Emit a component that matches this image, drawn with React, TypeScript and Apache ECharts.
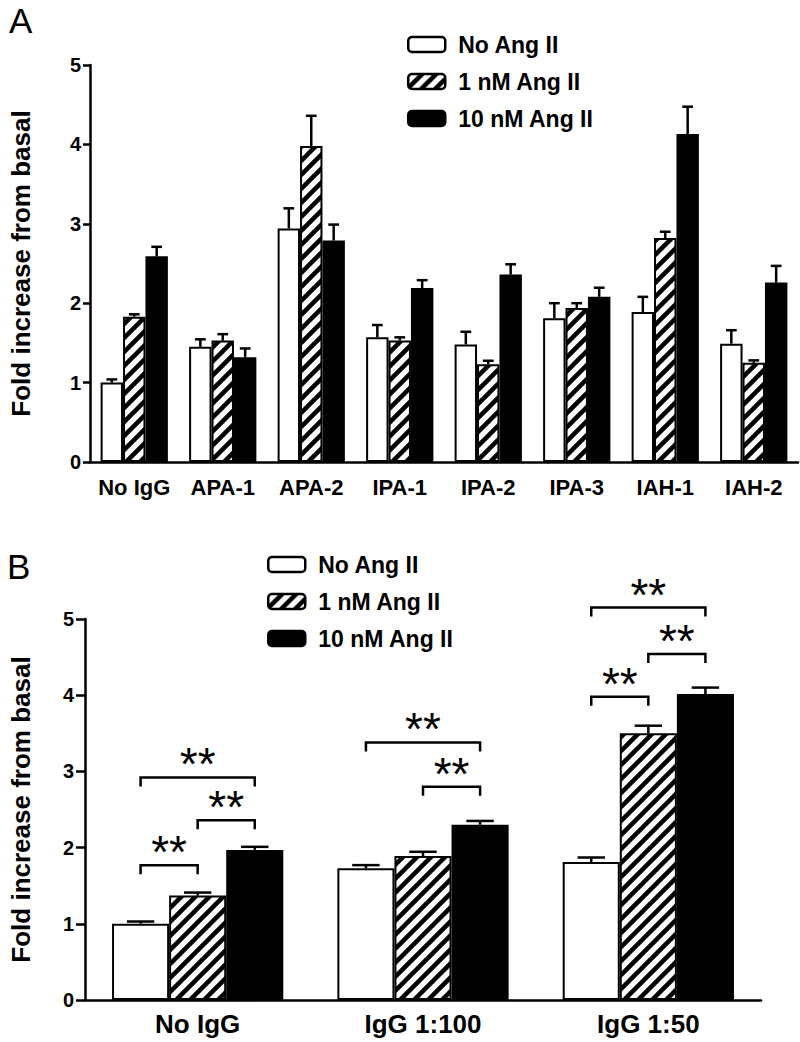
import React, { useEffect, useRef } from 'react';
import * as echarts from 'echarts';

const seriesNames = ['No Ang II', '1 nM Ang II', '10 nM Ang II'];
const yAxisTitle = 'Fold increase from basal';

// Panel A
const catsA = ['No IgG', 'APA-1', 'APA-2', 'IPA-1', 'IPA-2', 'IPA-3', 'IAH-1', 'IAH-2'];
const noAngA = [1.0, 1.45, 2.94, 1.57, 1.48, 1.81, 1.89, 1.49];
const noAngErrA = [0.04, 0.095, 0.255, 0.155, 0.16, 0.19, 0.19, 0.17];
const ang1A = [1.83, 1.53, 3.98, 1.53, 1.23, 1.94, 2.82, 1.25];
const ang1ErrA = [0.03, 0.08, 0.38, 0.04, 0.045, 0.06, 0.08, 0.03];
const ang10A = [2.59, 1.32, 2.79, 2.19, 2.36, 2.08, 4.13, 2.26];
const ang10ErrA = [0.12, 0.11, 0.2, 0.1, 0.13, 0.115, 0.345, 0.21];

// Panel B
const catsB = ['No IgG', 'IgG 1:100', 'IgG 1:50'];
const noAngB = [1.0, 1.73, 1.81];
const noAngErrB = [0.03, 0.04, 0.06];
const ang1B = [1.37, 1.89, 3.5];
const ang1ErrB = [0.04, 0.055, 0.1];
const ang10B = [1.97, 2.3, 4.015];
const ang10ErrB = [0.04, 0.05, 0.085];

// significance brackets in panel B: [category, fromBar, toBar, yLevel]
const bracketsB = [
  [0, 0, 1, 1.77],
  [0, 1, 2, 2.36],
  [0, 0, 2, 2.92],
  [1, 0, 2, 3.38],
  [1, 1, 2, 2.8],
  [2, 0, 1, 3.98],
  [2, 1, 2, 4.54],
  [2, 0, 2, 5.15],
];
const sigLabel = '**';

const FONT = "'Liberation Sans', Arial, Helvetica, sans-serif";
const GAP = 0.24;

export default function App() {
  const ref = useRef<HTMLDivElement>(null);

  useEffect(() => {
    const el = ref.current!;
    const chart = echarts.init(el, null, { renderer: 'svg' });

    const s = 14;
    const cv = document.createElement('canvas');
    cv.width = s;
    cv.height = s;
    const ctx = cv.getContext('2d')!;
    ctx.fillStyle = '#fff';
    ctx.fillRect(0, 0, s, s);
    ctx.strokeStyle = '#000';
    ctx.lineWidth = 4.5;
    for (const c of [0, s, 2 * s]) {
      ctx.beginPath();
      ctx.moveTo(c - 2 * s, 2 * s);
      ctx.lineTo(c + s, -s);
      ctx.stroke();
    }
    const hatch: any = { image: cv, repeat: 'repeat', imageWidth: s, imageHeight: s };
    const fills: any[] = ['#fff', hatch, '#000'];

    const barSeries = (p: number, i: number, vals: number[]) => ({
      type: 'bar',
      name: seriesNames[i],
      xAxisIndex: p,
      yAxisIndex: p,
      data: vals,
      barGap: '0%',
      barCategoryGap: '24%',
      silent: true,
      itemStyle: { color: fills[i], borderColor: '#000', borderWidth: 2 },
    });

    const errSeries = (p: number, i: number, vals: number[], errs: number[]) => ({
      type: 'custom',
      xAxisIndex: p,
      yAxisIndex: p,
      z: 5,
      silent: true,
      data: vals.map((v, k) => [k, v, v + errs[k]]),
      renderItem: (params: any, api: any) => {
        const band = api.size([1, 0])[0];
        const bw = (band * (1 - GAP)) / 3;
        const c = api.coord([api.value(0), api.value(1)]);
        const t = api.coord([api.value(0), api.value(2)]);
        const x = c[0] + (i - 1) * bw;
        const cap = bw * 0.24;
        return {
          type: 'group',
          children: [
            { type: 'line', shape: { x1: x, y1: c[1], x2: x, y2: t[1] }, style: { stroke: '#000', lineWidth: 2.5 } },
            { type: 'line', shape: { x1: x - cap, y1: t[1], x2: x + cap, y2: t[1] }, style: { stroke: '#000', lineWidth: 2.5 } },
          ],
        };
      },
    });

    const fs = 46;
    const bracketSeries = {
      type: 'custom',
      xAxisIndex: 1,
      yAxisIndex: 1,
      z: 6,
      silent: true,
      clip: false,
      data: bracketsB,
      renderItem: (params: any, api: any) => {
        const band = api.size([1, 0])[0];
        const bw = (band * (1 - GAP)) / 3;
        const p = api.coord([api.value(0), api.value(3)]);
        const x1 = p[0] + (api.value(1) - 1) * bw;
        const x2 = p[0] + (api.value(2) - 1) * bw;
        const y = p[1];
        const leg = 9;
        return {
          type: 'group',
          children: [
            {
              type: 'polyline',
              shape: { points: [[x1, y + leg], [x1, y], [x2, y], [x2, y + leg]] },
              style: { stroke: '#000', lineWidth: 2.5, fill: 'none' },
            },
            {
              type: 'text',
              x: (x1 + x2) / 2,
              y: y - 13,
              style: {
                text: sigLabel,
                fontSize: fs,
                fontWeight: 'normal',
                fontFamily: FONT,
                align: 'center',
                verticalAlign: 'middle',
                fill: '#000',
              },
            },
          ],
        };
      },
    };

    const axisLine = { show: true, lineStyle: { color: '#000', width: 2.5 } };
    const yAxis = (g: number, margin: number, tick: number, gap: number) => ({
      gridIndex: g,
      type: 'value',
      min: 0,
      max: 5,
      interval: 1,
      axisLine,
      axisTick: { show: true, length: tick, lineStyle: { color: '#000', width: 2.5 } },
      axisLabel: { color: '#000', fontSize: 20, fontWeight: 'bold', fontFamily: FONT, margin },
      splitLine: { show: false },
      name: yAxisTitle,
      nameLocation: 'middle',
      nameGap: gap,
      nameTextStyle: { color: '#000', fontSize: 26, fontWeight: 'bold', fontFamily: FONT },
    });
    const xAxis = (g: number, data: string[], size: number, margin: number) => ({
      gridIndex: g,
      type: 'category',
      data,
      axisLine,
      axisTick: { show: false },
      axisLabel: { color: '#000', fontSize: size, fontWeight: 'bold', fontFamily: FONT, margin, interval: 0 },
    });
    const legend = (left: number, top: number) => ({
      data: seriesNames,
      orient: 'vertical',
      left,
      top,
      itemWidth: 37,
      itemHeight: 15,
      itemGap: 14,
      icon: 'roundRect',
      selectedMode: false,
      itemStyle: { borderColor: '#000', borderWidth: 2.5 },
      textStyle: {
        fontSize: 23,
        fontWeight: 'bold',
        color: '#000',
        fontFamily: FONT,
        lineHeight: 23,
        padding: [0, 0, 0, 8],
      },
    });

    chart.setOption({
      animation: false,
      backgroundColor: '#fff',
      grid: [
        { left: 82, top: 65, width: 716, height: 397 },
        { left: 77, top: 619, width: 684, height: 381 },
      ],
      xAxis: [xAxis(0, catsA, 22, 14), xAxis(1, catsB, 26, 11)],
      yAxis: [yAxis(0, 9, 7, 56), yAxis(1, 11, 9, 51)],
      legend: [legend(402, 28), legend(262, 548)],
      graphic: [
        { type: 'text', left: 9, top: 3, style: { text: 'A', fontSize: 35, fontFamily: FONT, fill: '#000' } },
        { type: 'text', left: 7, top: 549, style: { text: 'B', fontSize: 35, fontFamily: FONT, fill: '#000' } },
      ],
      series: [
        barSeries(0, 0, noAngA),
        barSeries(0, 1, ang1A),
        barSeries(0, 2, ang10A),
        errSeries(0, 0, noAngA, noAngErrA),
        errSeries(0, 1, ang1A, ang1ErrA),
        errSeries(0, 2, ang10A, ang10ErrA),
        barSeries(1, 0, noAngB),
        barSeries(1, 1, ang1B),
        barSeries(1, 2, ang10B),
        errSeries(1, 0, noAngB, noAngErrB),
        errSeries(1, 1, ang1B, ang1ErrB),
        errSeries(1, 2, ang10B, ang10ErrB),
        bracketSeries,
      ],
    } as any);

    return () => chart.dispose();
  }, []);

  return (
    <div
      ref={ref}
      style={{ position: 'absolute', left: 0, top: 0, width: 800, height: 1042, background: '#fff' }}
    />
  );
}
